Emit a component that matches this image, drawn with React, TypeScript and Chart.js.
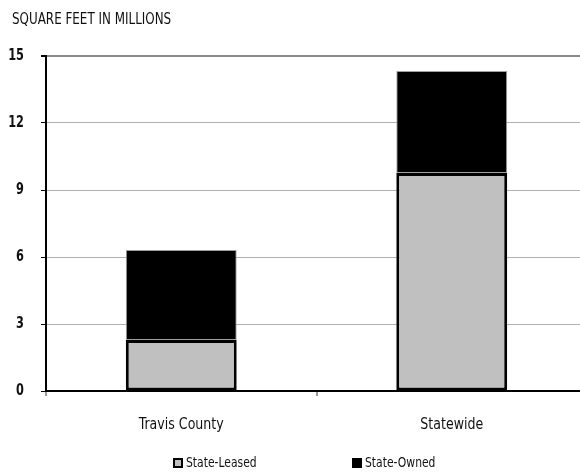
import React, { useEffect, useRef } from "react";
import { Chart, registerables } from "chart.js";

Chart.register(...registerables);

const categories = ["Travis County", "Statewide"];
const leased = [2.28, 9.76];
const owned = [4.03, 4.57];
const seriesNames = ["State-Leased", "State-Owned"];
const yTicks = [0, 3, 6, 9, 12, 15];
const titleText = "SQUARE FEET IN MILLIONS";

const FONT = "'DejaVu Sans Condensed', 'Liberation Sans Narrow', sans-serif";

function tallText(ctx: any, text: string, x: number, y: number, font: string, sx: number, sy: number, align: string) {
  ctx.save();
  ctx.font = font;
  ctx.textAlign = align;
  ctx.textBaseline = "middle";
  ctx.translate(x, y);
  ctx.scale(sx, sy);
  ctx.fillText(text, 0, 0);
  ctx.restore();
}

const extrasPlugin = {
  id: "extras",
  afterDraw(chart: any) {
    const ctx = chart.ctx;
    ctx.save();
    ctx.fillStyle = "#111";
    tallText(ctx, titleText, 12, 20, `13px ${FONT}`, 1.02, 1.25, "left");
    // axis labels
    const ys = chart.scales.y;
    yTicks.forEach((v) => {
      tallText(ctx, String(v), 24, ys.getPixelForValue(v), `bold 12px ${FONT}`, 1.05, 1.35, "right");
    });
    const xs = chart.scales.x;
    categories.forEach((c, i) => {
      tallText(ctx, c, xs.getPixelForValue(i), 425, `14px ${FONT}`, 1.0, 1.15, "center");
    });
    // legend
    const items = [
      { x: 173, fill: "#c0c0c0", stroke: "#000", label: seriesNames[0] },
      { x: 352, fill: "#000", stroke: "#000", label: seriesNames[1] },
    ];
    const y = 463;
    items.forEach((it) => {
      ctx.fillStyle = it.stroke;
      ctx.fillRect(it.x, y - 5, 10, 10);
      ctx.fillStyle = it.fill;
      ctx.fillRect(it.x + 2, y - 3, 6, 6);
      ctx.fillStyle = "#111";
      tallText(ctx, it.label, it.x + 13, y, `12px ${FONT}`, 1, 1.2, "left");
    });
    ctx.restore();
  },
};

export default function App() {
  const ref = useRef<HTMLCanvasElement>(null);
  useEffect(() => {
    const chart = new Chart(ref.current!, {
      type: "bar",
      data: {
        labels: categories,
        datasets: [
          {
            label: seriesNames[0],
            data: leased,
            backgroundColor: "#c0c0c0",
            borderColor: "#000",
            borderWidth: 3,
            borderSkipped: false,
          },
          {
            label: seriesNames[1],
            data: owned,
            backgroundColor: "#000",
            borderColor: "#a0a0a0",
            borderWidth: 1,
            borderSkipped: false,
          },
        ],
      },
      options: {
        responsive: false,
        animation: false,
        layout: { padding: { top: 56, left: 0, right: 13, bottom: 0 } },
        plugins: { legend: { display: false }, tooltip: { enabled: false } },
        datasets: { bar: { categoryPercentage: 1, barPercentage: 0.41 } },
        scales: {
          x: {
            stacked: true,
            offset: true,
            grid: {
              offset: true,
              drawOnChartArea: false,
              tickLength: 5,
              color: "#999",
              lineWidth: 2,
            },
            border: { color: "#000", width: 2 },
            ticks: { display: false },
            afterFit(scale: any) {
              scale.height = 82;
            },
          },
          y: {
            stacked: true,
            min: 0,
            max: 15,
            ticks: { stepSize: 3, display: false },
            grid: {
              color: (c: any) => (c.tick && c.tick.value === 15 ? "#8a8a8a" : "#b0b0b0"),
              lineWidth: (c: any) => (c.tick && c.tick.value === 15 ? 2 : 1),
              tickLength: 5,
              tickColor: "#000",
            },
            border: { color: "#000", width: 2 },
            afterFit(scale: any) {
              scale.width = 46;
            },
          },
        },
      },
      plugins: [extrasPlugin],
    } as any);
    return () => chart.destroy();
  }, []);
  return (
    <div
      style={{
        position: "fixed",
        left: 0,
        top: 0,
        width: 580,
        height: 473,
        overflow: "hidden",
        background: "#fff",
      }}
    >
      <canvas ref={ref} width={600} height={473} style={{ display: "block" }} />
    </div>
  );
}
